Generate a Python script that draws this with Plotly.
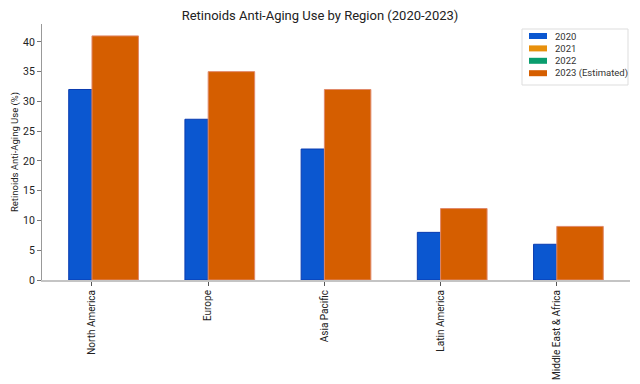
import plotly.graph_objects as go

regions = ["North America", "Europe", "Asia Pacific", "Latin America", "Middle East & Africa"]
y2020 = [32, 27, 22, 8, 6]
y2021 = [None, None, None, None, None]
y2022 = [None, None, None, None, None]
y2023 = [41, 35, 32, 12, 9]
y_ticks = [0, 5, 10, 15, 20, 25, 30, 35, 40]
series_names = ["2020", "2021", "2022", "2023 (Estimated)"]
series_colors = ["#0B57D0", "#E8900C", "#0A9D6E", "#D55E00"]

xpos = list(range(len(regions)))

fig = go.Figure()
fig.add_trace(go.Bar(x=xpos, y=y2020, name=series_names[0], width=0.2, offset=-0.2,
                     marker=dict(color=series_colors[0], line=dict(color="#0A3BB0", width=1)),
                     showlegend=False))
fig.add_trace(go.Bar(x=xpos, y=y2021, name=series_names[1], width=0.2, offset=0,
                     marker=dict(color=series_colors[1]), showlegend=False))
fig.add_trace(go.Bar(x=xpos, y=y2022, name=series_names[2], width=0.2, offset=0.2,
                     marker=dict(color=series_colors[2]), showlegend=False))
fig.add_trace(go.Bar(x=xpos, y=y2023, name=series_names[3], width=0.4, offset=0,
                     marker=dict(color=series_colors[3], line=dict(color="#E0896A", width=1)),
                     showlegend=False))

# plot area geometry (pixels) for a hand-drawn legend box
L, R, T, B = 42, 630, 24, 280
def px(xp):
    return (xp - L) / (R - L)
def py(yp):
    return (B - yp) / (B - T)

shapes = [dict(type="rect", xref="paper", yref="paper",
               x0=px(522), x1=px(628), y0=py(85), y1=py(29),
               line=dict(color="#dddddd", width=1), fillcolor="white", layer="above")]
annotations = []
for i, (nm, col) in enumerate(zip(series_names, series_colors)):
    yc = 36 + i * 12.4
    shapes.append(dict(type="rect", xref="paper", yref="paper",
                       x0=px(529), x1=px(547), y0=py(yc + 3), y1=py(yc - 3),
                       line=dict(width=0), fillcolor=col, layer="above"))
    annotations.append(dict(text=nm, xref="paper", yref="paper", x=px(553), y=py(yc),
                            xanchor="left", yanchor="middle", showarrow=False,
                            font=dict(size=9.5, color="#333")))

fig.update_layout(
    width=640, height=384,
    barmode="overlay",
    hovermode=False,
    plot_bgcolor="white", paper_bgcolor="white",
    font=dict(family="Roboto, Arial, sans-serif", color="#222"),
    margin=dict(l=L, r=640 - R, t=T, b=384 - B, autoexpand=False),
    title=dict(text="Retinoids Anti-Aging Use by Region (2020-2023)", x=0.5, xanchor="center",
               y=0.96, yanchor="middle", font=dict(size=13, color="#222")),
    xaxis=dict(tickmode="array", tickvals=xpos, ticktext=regions, tickangle=-90,
               range=[-0.43, 4.63], type="linear", showgrid=False, zeroline=False,
               showline=True, linecolor="#c4c4c4", linewidth=2, automargin=False,
               ticks="outside", ticklen=4, tickcolor="#555", tickfont=dict(size=10)),
    yaxis=dict(title=dict(text="Retinoids Anti-Aging Use (%)", font=dict(size=9.5), standoff=2),
               range=[0, 43], tickvals=y_ticks, showgrid=False, zeroline=False,
               showline=True, linecolor="#999", linewidth=1, automargin=False,
               ticks="outside", ticklen=4, tickcolor="#777", tickfont=dict(size=10.5)),
    shapes=shapes,
    annotations=annotations,
    showlegend=False,
)

fig.write_html("out.html", config={"displayModeBar": False},
               post_script="document.body.style.margin='0';document.body.style.overflow='hidden';")
